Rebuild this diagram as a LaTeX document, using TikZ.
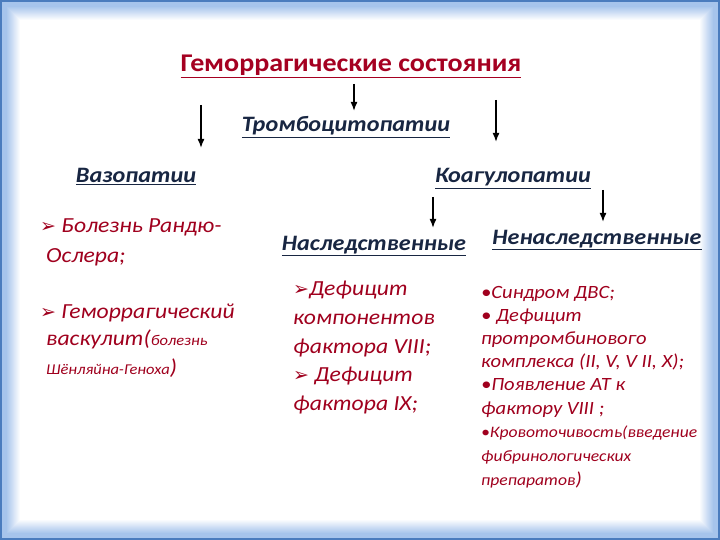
\documentclass[tikz,border=0pt]{standalone}
\usepackage{fontspec}
\setmainfont{Carlito}[FakeStretch=1.1]
\newfontfamily\dingfont{DejaVu Sans}
\usepackage{tikz}
\usetikzlibrary{arrows.meta}
\usepackage{xcolor}
\definecolor{framedark}{RGB}{74,124,190}
\definecolor{framelight}{RGB}{166,196,236}
\definecolor{titlered}{RGB}{165,0,33}
\definecolor{itemred}{RGB}{160,0,30}
\definecolor{headnavy}{RGB}{24,38,66}
\newcommand{\arrbul}{{\dingfont\fontsize{19}{19}\selectfont\char"27A2}}
\tikzset{
    heading/.style={anchor=base, text=headnavy, font=\fontsize{22}{26}\selectfont\bfseries\itshape, inner sep=0pt},
    item/.style={anchor=base west, text=itemred, font=\fontsize{21.5}{26}\selectfont\itshape, inner sep=0pt},
    smallitem/.style={item, font=\fontsize{18.7}{22}\selectfont\itshape},
    down/.style={-{Latex[length=9pt,width=7pt]}, line width=1.6pt}
}
\begin{document}
\begin{tikzpicture}[x=1pt,y=-1pt]
                \useasboundingbox (0,0) rectangle (720,540);
                % frame
                \fill[framedark] (0,0) rectangle (720,540);
                \fill[framelight] (2,2) rectangle (718,538);
                \foreach \i [evaluate=\i as \pc using int(100-\i*100/14)] in {0,...,14} {
                        \fill[framelight!\pc!white] (6+\i,6+\i) rectangle (714-\i,534-\i);
                    }
                \node[anchor=base, text=titlered, font=\fontsize{25.5}{30}\selectfont\bfseries, inner sep=0pt] (title) at (351,72) {\underline{Геморрагические состояния}};
                \node[heading] (thrombo) at (346,132) {\underline{Тромбоцитопатии}};
                \node[heading] (vazo) at (136,183) {\underline{Вазопатии}};
                \node[heading] (koag) at (513,183) {\underline{Коагулопатии}};
                \node[heading] (nasl) at (374,250) {\underline{Наследственные}};
                \node[heading] (nenasl) at (597,244) {\underline{Ненаследственные}};
                % arrows
                \coordinate (a1s) at (354,84);   \coordinate (a1e) at (354,111);
                \coordinate (a2s) at (201,105);  \coordinate (a2e) at (201,148);
                \coordinate (a3s) at (496,100);  \coordinate (a3e) at (496,142);
                \coordinate (a4s) at (433,197);  \coordinate (a4e) at (433,228);
                \coordinate (a5s) at (603,190);  \coordinate (a5e) at (603,222);
                \foreach \n in {1,...,5} {
                        \draw[down] (a\n s) -- (a\n e);
                    }
                % vasopathies
                \node[item] (l1) at (40,233) {\arrbul\ Болезнь Рандю-};
                \node[item] (l2) at (46,262) {Ослера;};
                \node[item] (l3) at (40,318) {\arrbul\ Геморрагический};
                \node[item] (l4) at (46,345) {васкулит({\fontsize{15}{18}\selectfont болезнь}};
                \node[item] (l5) at (46,374) {{\fontsize{15}{18}\selectfont Шёнляйна-Геноха})};
                % hereditary
                \foreach \y/\t in {295/{\arrbul Дефицит}, 324/{компонентов}, 353/{фактора VIII;}, 381/{\arrbul\ Дефицит}, 410/{фактора IX;}} {
                        \node[item] (m\y) at (293,\y) {\t};
                    }
                % acquired
                \foreach \y/\t in {298/{•Синдром ДВС;}, 321/{• Дефицит}, 344/{протромбинового}, 367/{комплекса (II, V, V II, X);}, 390/{•Появление АТ к}, 414/{фактору VIII ;}} {
                        \node[smallitem] (r\y) at (481,\y) {\t};
                    }
                \foreach \y/\t in {437/{•Кровоточивость(введение}, 461/{фибринологических}} {
                        \node[item, font=\fontsize{16}{19}\selectfont\itshape] (r\y) at (481,\y) {\t};
                    }
                \node[smallitem] (r485) at (481,485) {{\fontsize{16}{19}\selectfont препаратов})};
            \end{tikzpicture}
\end{document}
